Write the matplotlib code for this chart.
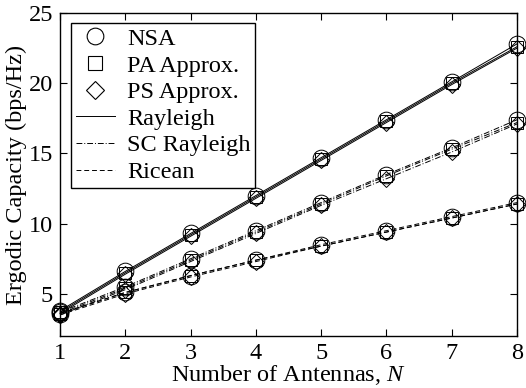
import numpy as np
import matplotlib
matplotlib.use('Agg')
import matplotlib.pyplot as plt
from matplotlib.lines import Line2D

plt.rcParams['font.family'] = ['Liberation Serif', 'DejaVu Serif']
plt.rcParams['mathtext.fontset'] = 'custom'
plt.rcParams['mathtext.it'] = 'Liberation Serif:italic'
plt.rcParams['mathtext.rm'] = 'Liberation Serif'
FS = 17.5

# number of antennas
n_ant = [1, 2, 3, 4, 5, 6, 7, 8]

# Rayleigh curves (solid)
ray_nsa = [3.8, 6.6, 9.3, 12.0, 14.7, 17.4, 20.1, 22.8]
ray_pa = [3.7, 6.5, 9.2, 11.9, 14.6, 17.3, 20.0, 22.6]
ray_ps = [3.6, 6.4, 9.1, 11.8, 14.5, 17.2, 19.9, 22.5]

# spatially correlated Rayleigh curves (dash-dot)
sc_nsa = [3.7, 5.5, 7.5, 9.5, 11.5, 13.5, 15.4, 17.4]
sc_pa = [3.6, 5.4, 7.4, 9.4, 11.4, 13.4, 15.3, 17.2]
sc_ps = [3.5, 5.3, 7.3, 9.3, 11.3, 13.2, 15.1, 17.1]

# Ricean curves (dashed)
ric_nsa = [3.6, 5.1, 6.3, 7.4, 8.5, 9.5, 10.5, 11.5]
ric_pa = [3.6, 5.1, 6.3, 7.4, 8.4, 9.4, 10.4, 11.4]
ric_ps = [3.5, 5.0, 6.2, 7.3, 8.4, 9.4, 10.4, 11.4]

W, H = 526, 388
fig = plt.figure(figsize=(W/100, H/100), dpi=100)
ax = fig.add_axes([60/W, (H-336)/H, 457/W, 323/H])

groups = [
    ('-', [ray_nsa, ray_pa, ray_ps]),
    ((0, (6, 2, 1, 2)), [sc_nsa, sc_pa, sc_ps]),
    ((0, (5, 3)), [ric_nsa, ric_pa, ric_ps]),
]
markers = ['o', 's', 'D']
msizes = [12, 9, 8]

for ls, series in groups:
    for vals, mk, ms in zip(series, markers, msizes):
        ax.plot(n_ant, vals, color='k', linestyle=ls, linewidth=0.7,
                marker=mk, markersize=ms,
                markerfacecolor='none', markeredgecolor='k',
                markeredgewidth=0.7, clip_on=False)

ax.set_xlim(1, 8)
ax.set_ylim(2, 25)
ax.set_xticks(n_ant)
ax.set_yticks([5, 10, 15, 20, 25])
ax.tick_params(direction='in', top=True, right=True, length=5, width=0.8,
               labelsize=FS)
ax.tick_params(axis='x', pad=5)
ax.tick_params(axis='y', pad=5)
for s in ax.spines.values():
    s.set_linewidth(1.0)

ax.set_xlabel('Number of Antennas, $N$', fontsize=FS, labelpad=-1)
ax.set_ylabel('Ergodic Capacity (bps/Hz)', fontsize=FS, labelpad=1)

handles = [
    Line2D([], [], linestyle='none', marker='o', markersize=12,
           markerfacecolor='none', markeredgecolor='k', markeredgewidth=0.8),
    Line2D([], [], linestyle='none', marker='s', markersize=10,
           markerfacecolor='none', markeredgecolor='k', markeredgewidth=0.8),
    Line2D([], [], linestyle='none', marker='D', markersize=9,
           markerfacecolor='none', markeredgecolor='k', markeredgewidth=0.8),
    Line2D([], [], color='k', linestyle='-', linewidth=0.7),
    Line2D([], [], color='k', linestyle=(0, (6, 2, 1, 2)), linewidth=0.7),
    Line2D([], [], color='k', linestyle=(0, (5, 3)), linewidth=0.7),
]
labels = ['NSA', 'PA Approx.', 'PS Approx.', 'Rayleigh', 'SC Rayleigh', 'Ricean']
leg = ax.legend(handles, labels, loc='upper left',
                bbox_to_anchor=(71/W, 1-23/H), bbox_transform=fig.transFigure,
                borderaxespad=0, fancybox=False, edgecolor='k', framealpha=1,
                handlelength=1.6, handletextpad=0.5, labelspacing=0.19,
                borderpad=0.2, fontsize=FS)
leg.get_frame().set_linewidth(1.0)

fig.savefig('out.png', dpi=100)
